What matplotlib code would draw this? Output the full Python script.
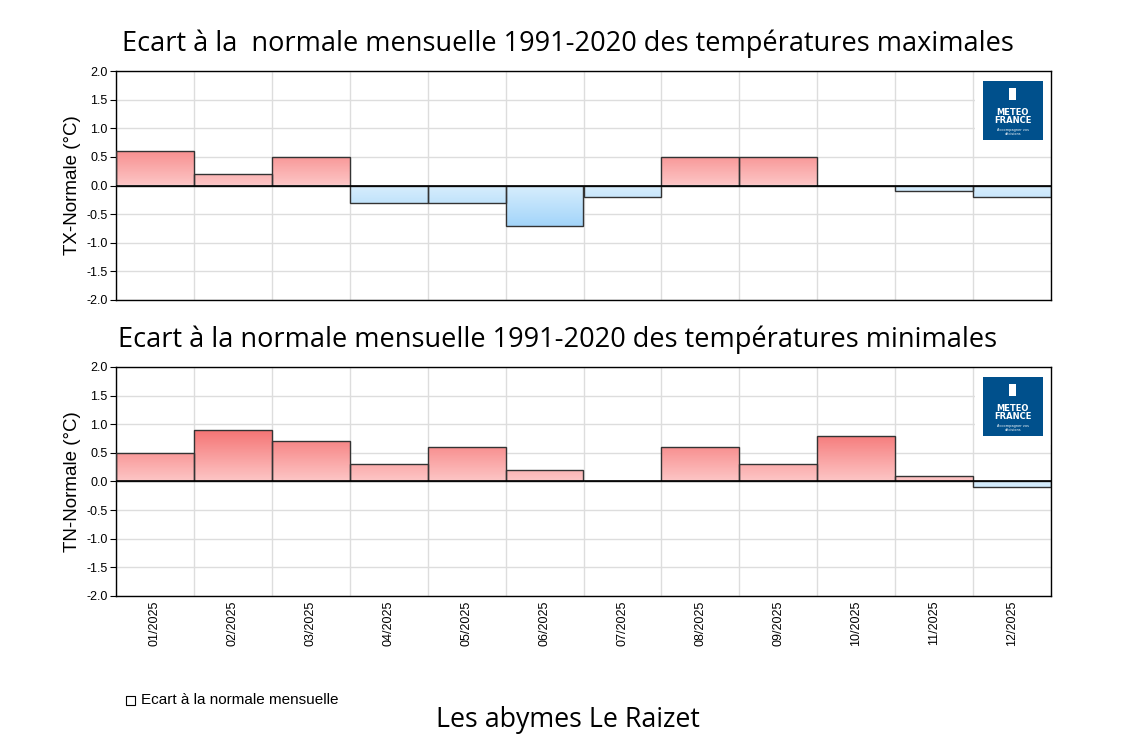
import numpy as np
import matplotlib.pyplot as plt
from matplotlib.colors import LinearSegmentedColormap
from matplotlib.patches import Rectangle

# Monthly anomaly vs 1991-2020 normal (°C)
months = ['01/2025', '02/2025', '03/2025', '04/2025', '05/2025', '06/2025',
          '07/2025', '08/2025', '09/2025', '10/2025', '11/2025', '12/2025']
tx_anom = [0.6, 0.2, 0.5, -0.3, -0.3, -0.7, -0.2, 0.5, 0.5, 0.0, -0.1, -0.2]
tn_anom = [0.5, 0.9, 0.7, 0.3, 0.6, 0.2, 0.0, 0.6, 0.3, 0.8, 0.1, -0.1]

title_tx = "Ecart à la  normale mensuelle 1991-2020 des températures maximales"
title_tn = "Ecart à la normale mensuelle 1991-2020 des températures minimales"
station = "Les abymes Le Raizet"

# gradient colormap by y value (-1..1): blue below zero, pink/red above
grad = LinearSegmentedColormap.from_list('anom', [
    (0.0, '#8ccaf8'), (0.5 - 1e-3, '#d8eefd'), (0.5, '#fdc6c6'), (1.0, '#f46a6a')])

W, H = 1126, 744
fig = plt.figure(figsize=(W / 100, H / 100), dpi=100)


def px_axes(x0, y0, x1, y1):
    return fig.add_axes([x0 / W, 1 - y1 / H, (x1 - x0) / W, (y1 - y0) / H])


def draw_panel(ax, vals, ylabel, show_x):
    x = np.arange(len(vals))
    bars = ax.bar(x, vals, width=1.0, facecolor='none', edgecolor='#333333',
                  linewidth=1.0, zorder=3)
    yy = np.linspace(-1, 1, 400).reshape(-1, 1)
    for b in bars:
        if b.get_height() == 0:
            continue
        im = ax.imshow(yy, cmap=grad, vmin=-1, vmax=1, origin='lower', aspect='auto',
                       extent=[b.get_x(), b.get_x() + b.get_width(), -1, 1], zorder=2)
        im.set_clip_path(b)
    ax.axhline(0, color='black', lw=1.2, zorder=4)
    ax.set_xlim(-0.5, len(vals) - 0.5)
    ax.set_ylim(-2, 2)
    ax.set_yticks(np.arange(-2, 2.01, 0.5))
    ax.set_yticklabels([f'{v:.1f}' for v in np.arange(-2, 2.01, 0.5)],
                       fontsize=9, family='Liberation Sans')
    ax.set_xticks(np.arange(-0.5, len(vals)), minor=False)
    ax.set_xticklabels([])
    ax.tick_params(axis='x', length=0)
    ax.tick_params(axis='y', length=4, pad=2)
    ax.grid(True, color='#dddddd', lw=1, zorder=0)
    ax.set_axisbelow(True)
    for s in ax.spines.values():
        s.set_linewidth(1.0)
    ax.set_ylabel(ylabel, fontsize=13.5, family='Liberation Sans', labelpad=4)
    if show_x:
        for i, m in enumerate(months):
            ax.text(i, -2.08, m, rotation=90, ha='center', va='top', fontsize=9,
                    family='Liberation Sans')
    # logo on a white patch that hides the grid behind it
    ax.add_patch(Rectangle((0.919, 0.66), 0.081, 0.34, transform=ax.transAxes,
                           facecolor='white', edgecolor='none', zorder=1))
    ax.add_patch(Rectangle((0.927, 0.699), 0.064, 0.257, transform=ax.transAxes,
                           facecolor='#00508c', edgecolor='none', zorder=1.5))
    ax.text(0.959, 0.80, 'METEO\nFRANCE', transform=ax.transAxes, ha='center',
            va='center', color='white', fontsize=6, weight='bold', linespacing=0.9,
            family='DejaVu Sans', zorder=1.6)
    ax.text(0.959, 0.735, 'Accompagner vos\ndécisions', transform=ax.transAxes,
            ha='center', va='center', color='white', fontsize=2.5, linespacing=0.9,
            family='DejaVu Sans', zorder=1.6)
    ax.add_patch(Rectangle((0.955, 0.875), 0.008, 0.05, transform=ax.transAxes,
                           facecolor='white', edgecolor='none', zorder=1.6))


ax1 = px_axes(116, 71, 1051, 300)
draw_panel(ax1, tx_anom, 'TX-Normale (°C)', False)
ax2 = px_axes(116, 367, 1051, 596)
draw_panel(ax2, tn_anom, 'TN-Normale (°C)', True)

fig.text(122 / W, 1 - 44 / H, title_tx, fontsize=19.5, family='Open Sans', va='center')
fig.text(118 / W, 1 - 340 / H, title_tn, fontsize=19.5, family='Open Sans', va='center')

fig.patches.append(Rectangle((126 / W, 1 - 705 / H), 9 / W, 9 / H, transform=fig.transFigure,
                             facecolor='white', edgecolor='black', lw=0.8))
fig.text(141 / W, 1 - 700 / H, 'Ecart à la normale mensuelle', fontsize=11,
         family='Liberation Sans', va='center')
fig.text(568 / W, 1 - 720 / H, station, fontsize=19.3, family='Open Sans',
         ha='center', va='center')

fig.savefig('out.png', dpi=100)
